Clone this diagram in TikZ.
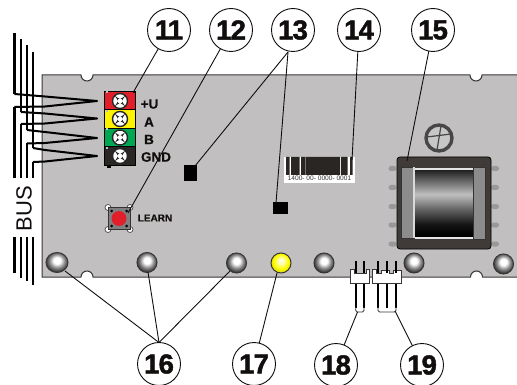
\documentclass[tikz,border=0pt]{standalone}
\usepackage{fontspec}
\usetikzlibrary{shapes.geometric}
\setmainfont{Liberation Sans}
\newfontfamily\heavyfont[UprightFont=* Bold,FakeBold=1.6,LetterSpace=-3]{Liberation Sans}
\newfontfamily\semifont[UprightFont=* Bold,FakeBold=0.6]{Liberation Sans}
\definecolor{panelgray}{HTML}{C1BFBF}
\definecolor{edgedark}{HTML}{3A3636}
\definecolor{ink}{HTML}{120E0E}
\definecolor{termred}{HTML}{E01F2B}
\definecolor{termyellow}{HTML}{FFF200}
\definecolor{termgreen}{HTML}{00A651}
\definecolor{termblack}{HTML}{2A2624}
\definecolor{coredark}{HTML}{403B39}
\pgfdeclareradialshading{ledgrayshade}{\pgfpoint{0bp}{6bp}}{color(0bp)=(white);color(8bp)=(white);color(17bp)=(black!45);color(26bp)=(black!80);color(50bp)=(black)}
\pgfdeclareradialshading{ledyellowshade}{\pgfpoint{0bp}{6bp}}{color(0bp)=(white);color(8bp)=(yellow!35);color(18bp)=(yellow);color(27bp)=(yellow!85!black);color(50bp)=(black)}
\pgfdeclareverticalshading{coilshade}{100bp}{color(0bp)=(black);color(25bp)=(black);color(34bp)=(black!92);color(46bp)=(black!60);color(57bp)=(black!25);color(66bp)=(black!55);color(75bp)=(black!85);color(100bp)=(black)}
\tikzset{
  every node/.style={inner sep=0pt,outer sep=0pt},
  callout/.style={circle,draw=ink,fill=white,line width=0.9pt,minimum size=43pt,font=\fontsize{27.5}{27.5}\heavyfont,text=ink},
  leader/.style={draw=ink,line width=0.9pt},
  wire/.style={draw=black,line width=2pt,line join=round},
  busline/.style={draw=black,line width=2.6pt},
  termblock/.style={draw=black,line width=0.9pt,minimum width=31pt,minimum height=18.5pt},
  termlabel/.style={font=\fontsize{13.5}{13.5}\semifont,text=ink},
  ledgray/.style={circle,draw=edgedark,line width=1pt,minimum size=20pt,shade,shading=ledgrayshade},
  ledyellow/.style={circle,draw=edgedark,line width=1pt,minimum size=20pt,shade,shading=ledyellowshade},
  blacksq/.style={fill=black,draw=none},
  pinpad/.style={fill=black!40,draw=none,rounded corners=2.5pt,minimum width=8pt,minimum height=5pt},
  screwhead/.pic={
    \fill[white,draw=black!85,line width=1.4pt] (0,0) circle[radius=7.5pt];
    \fill[black!85] (-5,-5) -- (0,-1.8) -- (5,-5) -- (1.8,0) -- (5,5) -- (0,1.8) -- (-5,5) -- (-1.8,0) -- cycle;
    \fill[white] (0,0) circle[radius=2.4pt];
  }
}
\begin{document}
\begin{tikzpicture}[x=1pt,y=-1pt]
\useasboundingbox (0,0) rectangle (517,385);
% panel
\draw[fill=panelgray,draw=edgedark,line width=1pt]
  (517,75) -- (482,75) arc[start angle=360,end angle=180,radius=6pt]
  -- (93,75) arc[start angle=360,end angle=180,radius=6pt]
  -- (42,75) -- (42,277) -- (81,277) arc[start angle=180,end angle=0,radius=6pt]
  -- (470.5,277) arc[start angle=180,end angle=0,radius=6pt] -- (517,277);
% BUS wires
\coordinate (t1) at (97,101);
\coordinate (t2) at (97,118.5);
\coordinate (t3) at (97,138);
\coordinate (t4) at (97,156);
\draw[busline] (14.5,33) -- (14.5,94);
\draw[busline] (21,39) -- (21,112);
\draw[busline] (27,45) -- (27,130);
\draw[busline] (33,52) -- (33,148);
\draw[wire] (14.5,94) -- (45,96.5) -- (t1) -- (45,106.5) -- (14.5,107);
\draw[wire] (21,112) -- (45,113.5) -- (t2) -- (45,123.5) -- (21,124);
\draw[wire] (27,130) -- (45,132) -- (t3) -- (45,143) -- (27,143.5);
\draw[wire] (33,148) -- (45,150) -- (t4) -- (45,161.5) -- (33,162);
\draw[busline] (14.5,107) -- (14.5,178);
\draw[busline] (21,124) -- (21,178);
\draw[busline] (27,143.5) -- (27,178);
\draw[busline] (33,162) -- (33,178);
\draw[busline] (14.5,237) -- (14.5,273);
\draw[busline] (21,237) -- (21,278);
\draw[busline] (27,237) -- (27,281);
\draw[busline] (33,237) -- (33,285);
\node[rotate=90,font=\fontsize{22}{22}\selectfont,text=ink] (bus) at (24,208.5) {BUS};
% terminals
\node[termblock,fill=termred] (tr) at (119.5,100.5) {};
\node[termblock,fill=termyellow] (ty) at (119.5,119) {};
\node[termblock,fill=termgreen] (tg) at (119.5,137.5) {};
\node[termblock,fill=termblack] (tb) at (119.5,156) {};
\fill[black] (106.5,165) rectangle (110.5,168.5);
\foreach \yy in {91.5,110,128.5,147}{\fill[panelgray] (105.5,\yy) rectangle (107.5,\yy+1.8);}
\fill[black] (133,91) rectangle (135,93);
\pic at (120,101) {screwhead};
\pic at (120,119) {screwhead};
\pic at (120,137.5) {screwhead};
\pic at (120,156) {screwhead};
\node[termlabel] (lu) at (149.5,104) {+U};
\node[termlabel] (la) at (149,122) {A};
\node[termlabel] (lb) at (149,139.5) {B};
\node[termlabel] (lg) at (156,157) {GND};
% learn button
\fill[white,draw=black!70,line width=0.7pt] (108,207.5) circle[radius=3pt] (130,207.5) circle[radius=3pt] (108,229.5) circle[radius=3pt] (130,229.5) circle[radius=3pt];
\node[draw=black!80,fill=black!50,line width=1pt,minimum size=22pt] (btn) at (119,218.5) {};
\fill[black] (111.5,211) circle[radius=1.5pt] (126.5,211) circle[radius=1.5pt] (111.5,226) circle[radius=1.5pt] (126.5,226) circle[radius=1.5pt];
\node[circle,fill=termred,minimum size=15pt] (btnred) at (119,218.5) {};
\node[font=\fontsize{10}{10}\semifont,text=ink] (learn) at (155,218) {LEARN};
% black squares
\node[blacksq,minimum width=13pt,minimum height=16pt] (sqa) at (190.5,173) {};
\node[blacksq,minimum width=15pt,minimum height=12pt] (sqb) at (280.5,208) {};
% barcode
\fill[white] (284,157) rectangle (355,183);
\fill[termblack] (286,157) rectangle (289.5,175) (291,157) rectangle (299.5,175) (301,157) rectangle (305.5,175) (306,157) rectangle (340,175) (341,157) rectangle (347.5,175) (350,157) rectangle (352.5,175);
\node[font=\fontsize{6.6}{6.6}\selectfont,text=black!80] (code) at (319.5,178.7) {1400- 00- 0000- 0001};
% screw
\node[circle,draw=black!72,line width=3.4pt,fill=black!22,minimum size=26pt] (scr) at (439,138) {};
\draw[black!72,line width=1.2pt] (427,137) -- (451,134) (441,126) -- (437,150);
% transformer
\foreach \yy in {168.5,187.5,206.5,225,244}{
  \node[pinpad] at (392.5,\yy) {};
  \node[pinpad] at (495,\yy) {};
}
\node[draw=black,fill=coredark,rounded corners=3pt,line width=0.8pt,minimum width=94pt,minimum height=92pt] (core) at (444,203) {};
\fill[white!90!black] (401,168) rectangle (486,239);
\shade[shading=coilshade] (414,171) rectangle (473,236);
\draw[fill=black!45,draw=black!80,line width=0.6pt] (401.5,167.5) rectangle (414,238);
\draw[fill=black!45,draw=black!80,line width=0.6pt] (473,167.5) rectangle (485.5,239);
\fill[white!85!black] (412.5,167.5) rectangle (414.5,238);
% LEDs
\node[ledgray,ellipse,minimum width=22pt,minimum height=20pt] (d1) at (57,262.5) {};
\node[ledgray] (d2) at (147,262.5) {};
\node[ledgray] (d3) at (236.5,263) {};
\node[ledyellow] (d4) at (281,263) {};
\node[ledgray] (d5) at (324,263) {};
\node[ledgray] (d6) at (414,263) {};
\node[ledgray] (d7) at (503.5,264) {};
% connectors
\foreach \xx in {355.7,364}{\draw[line width=2.3pt,black] (\xx,283) -- (\xx,308);}
\foreach \xx in {378,387,396}{\draw[line width=2.3pt,black] (\xx,283) -- (\xx,308);}
\draw[fill=white,draw=edgedark,line width=0.9pt] (350,269) -- (354,269) -- (354,273.5) -- (366,273.5) -- (366,269) -- (369,269) -- (369,283) -- (350,283) -- cycle;
\draw[fill=white,draw=edgedark,line width=0.9pt] (372,269) -- (376,269) -- (376,273.5) -- (381,273.5) -- (381,270) -- (389,270) -- (389,273.5) -- (393,273.5) -- (393,270) -- (401,270) -- (401,283) -- (372,283) -- cycle;
\foreach \xx in {355.7,364}{\draw[line width=2.3pt,black] (\xx,261) -- (\xx,273);}
\foreach \xx in {378,387,396}{\draw[line width=2.3pt,black] (\xx,261) -- (\xx,273);}
\draw[edgedark,line width=0.8pt,rounded corners=1.5pt] (355.7,307) -- (355.7,312) -- (364,312) -- (364,307);
\draw[edgedark,line width=0.8pt,rounded corners=1.5pt] (378,307) -- (378,312) -- (396,312) -- (396,307);
\coordinate (e18) at (357.5,312);
\coordinate (e19) at (395,311);
% callouts
\node[callout] (c11) at (169,30) {11};
\node[callout] (c12) at (231,30) {12};
\node[callout] (c13) at (293,30) {13};
\node[callout] (c14) at (359,30) {14};
\node[callout] (c15) at (433,30) {15};
\node[callout] (c16) at (159,364) {16};
\node[callout] (c17) at (254,364) {17};
\node[callout] (c18) at (336,365) {18};
\node[callout] (c19) at (422,365) {19};
% leaders
\coordinate (e11) at (134,91);
\coordinate (e12) at (128,213);
\coordinate (e13a) at (195,166);
\coordinate (e13b) at (276,203);
\coordinate (e14) at (352,160);
\coordinate (e15) at (407,161);
\coordinate (e16a) at (65,271);
\coordinate (e16b) at (148,272);
\coordinate (e16c) at (230,271);
\coordinate (e17) at (277,273);
\coordinate (a13l) at (288,52);
\coordinate (a16) at (c16.north);
\draw[leader] (c11) -- (e11);
\draw[leader] (c12) -- (e12);
\draw[leader] (a13l) -- (e13a);
\draw[leader] (a13l) -- (e13b);
\draw[leader] (c14) -- (e14);
\draw[leader] (c15) -- (e15);
\draw[leader] (a16) -- (e16a);
\draw[leader] (a16) -- (e16b);
\draw[leader] (a16) -- (e16c);
\draw[leader] (c17) -- (e17);
\draw[leader] (c18) -- (e18);
\draw[leader] (c19) -- (e19);
\end{tikzpicture}
\end{document}
